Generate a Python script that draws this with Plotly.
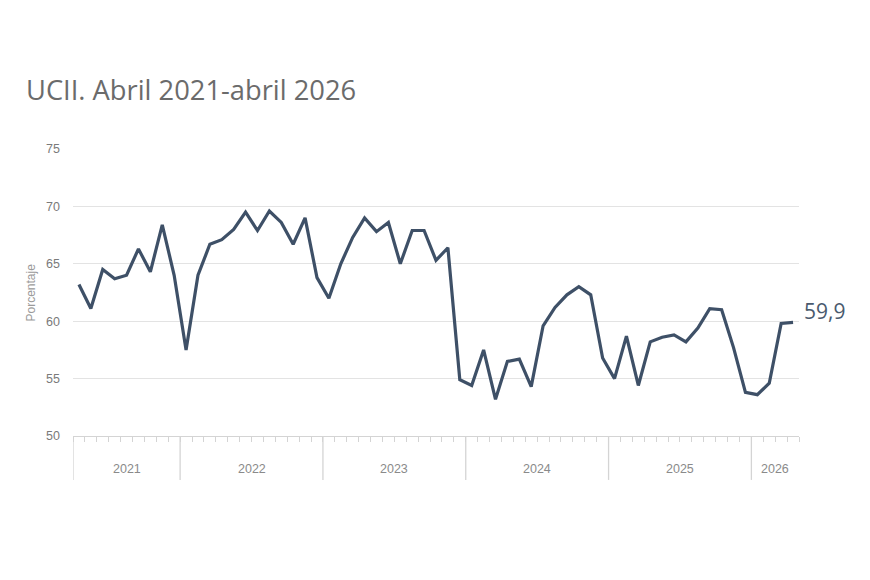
import plotly.graph_objects as go

# Monthly data, April 2021 - April 2026
years = [2021]*9 + [2022]*12 + [2023]*12 + [2024]*12 + [2025]*12 + [2026]*4
values = [
    63.2, 61.1, 64.5, 63.7, 64.0, 66.3, 64.3, 68.4, 64.0,            # 2021 Apr-Dec
    57.5, 64.0, 66.7, 67.1, 68.0, 69.5, 67.9, 69.6, 68.6, 66.7, 69.0, 63.8,  # 2022
    62.0, 65.0, 67.3, 69.0, 67.8, 68.6, 65.0, 67.9, 67.9, 65.3, 66.4, 54.9,  # 2023
    54.4, 57.5, 53.2, 56.5, 56.7, 54.3, 59.6, 61.2, 62.3, 63.0, 62.3, 56.8,  # 2024
    55.0, 58.7, 54.4, 58.2, 58.6, 58.8, 58.2, 59.4, 61.1, 61.0, 57.7, 53.8,  # 2025
    53.6, 54.6, 59.8, 59.9,                                            # 2026
]
year_labels = ["2021", "2022", "2023", "2024", "2025", "2026"]
y_ticks = [50, 55, 60, 65, 70, 75]
title_text = "UCII. Abril 2021-abril 2026"
y_title = "Porcentaje"
last_label = "59,9"

n = len(values)
x = list(range(n))

line_color = "#3e5067"
grid_color = "#e3e3e3"
axis_color = "#d4d4d4"

fig = go.Figure()
fig.add_trace(go.Scatter(
    x=x, y=values, mode="lines",
    line=dict(color=line_color, width=3.2),
    hoverinfo="skip", showlegend=False,
))

# year boundaries & label positions
bounds = [-0.5]
for i in range(1, n):
    if years[i] != years[i-1]:
        bounds.append(i - 0.5)
bounds.append(n - 0.5)

shapes = []
for b in bounds[:-1]:
    shapes.append(dict(type="line", xref="x", yref="paper", x0=b, x1=b,
                       y0=0, y1=-0.153, line=dict(color=axis_color, width=1.3)))

annotations = []
for k, lab in enumerate(year_labels):
    annotations.append(dict(x=(bounds[k] + bounds[k+1]) / 2, y=-0.115, xref="x", yref="paper",
                            text=lab, showarrow=False, yanchor="middle",
                            font=dict(family="Liberation Sans, Arial", size=12.5, color="#8a8a8a")))

annotations.append(dict(x=x[-1], y=values[-1], xref="x", yref="y", text=last_label,
                        showarrow=False, xanchor="left", yanchor="middle", xshift=9, yshift=11,
                        font=dict(family="Open Sans, Noto Sans", size=21, color="#4a5a6e")))

annotations.append(dict(x=-43/726, y=0.5, xref="paper", yref="paper", text=y_title,
                        showarrow=False, textangle=-90, xanchor="center", yanchor="middle",
                        font=dict(family="Liberation Sans, Arial", size=12, color="#9a9a9a")))

fig.update_layout(
    width=870, height=580,
    margin=dict(l=73, r=71, t=149, b=144),
    paper_bgcolor="white", plot_bgcolor="white",
    title=dict(text=title_text, x=26/870, y=1-90/580, xanchor="left", yanchor="middle",
               font=dict(family="Open Sans, Noto Sans", size=27.3, color="#6b6b6b")),
    xaxis=dict(range=[-0.5, n - 0.5], showgrid=False, zeroline=False,
               tickvals=[i - 0.5 for i in range(n + 1)],
               showticklabels=False, ticks="outside", ticklen=5, tickcolor=axis_color,
               tickwidth=1, showline=True, linecolor=axis_color, linewidth=1.3),
    yaxis=dict(range=[50, 75], tickvals=y_ticks, showgrid=True, gridcolor=grid_color,
               gridwidth=1.2, zeroline=False, showline=False, ticks="",
               ticklabelstandoff=12,
               tickfont=dict(family="Liberation Sans, Arial", size=12.5, color="#7a7a7a")),
    shapes=shapes,
    annotations=annotations,
)

fig.write_html("out.html")
